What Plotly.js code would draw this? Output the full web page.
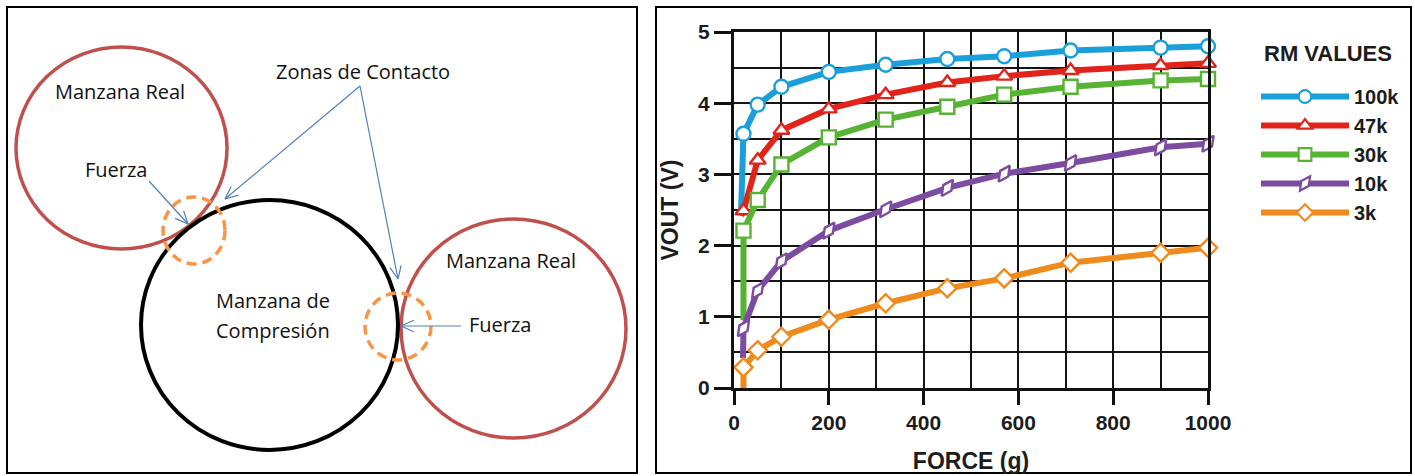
<!DOCTYPE html>
<html>
<head>
<meta charset="utf-8">
<script src="https://cdn.plot.ly/plotly-3.0.1.min.js"></script>
<style>html,body{margin:0;padding:0;background:#fff;}#chart{width:1415px;height:476px;}</style>
</head>
<body>
<div id="chart"></div>
<script>
// ---- chart data ----
const seriesNames = ['100k', '47k', '30k', '10k', '3k'];
const forceG = [20, 50, 100, 200, 320, 450, 570, 710, 900, 1000];
const vout100k = [3.57, 3.98, 4.23, 4.44, 4.54, 4.62, 4.66, 4.74, 4.78, 4.80];
const vout47k  = [2.49, 3.20, 3.62, 3.92, 4.12, 4.29, 4.38, 4.46, 4.53, 4.56];
const vout30k  = [2.21, 2.64, 3.14, 3.52, 3.77, 3.95, 4.12, 4.23, 4.32, 4.34];
const vout10k  = [0.84, 1.37, 1.78, 2.21, 2.51, 2.81, 3.01, 3.16, 3.38, 3.43];
const vout3k   = [0.29, 0.53, 0.72, 0.96, 1.19, 1.40, 1.54, 1.76, 1.90, 1.97];
// curve start (no marker) for each series
const startForce = [15, 15, 20, 19, 20];
const startVout  = [2.50, 2.42, 0.95, 0.42, 0.00];
const legendTitle = 'RM VALUES';
const xTitle = 'FORCE (g)';
const yTitle = 'VOUT (V)';

// ---- diagram texts ----
const diagramTexts = ['Manzana Real', 'Fuerza', 'Zonas de Contacto', 'Manzana Real', 'Manzana de', 'Compresión', 'Fuerza'];

// ---- styles ----
const colors = ['#1a9fda', '#e2231a', '#57b333', '#7b4c9f', '#ef8a1d'];
const symbols = ['circle', 'triangle-up', 'square', 'diamond-tall', 'diamond'];
const angles = [0, 0, 0, 35, 0];
const allVout = [vout100k, vout47k, vout30k, vout10k, vout3k];

const W = 1415, H = 476;
const px = x => x / W;
const py = y => 1 - y / H;

const traces = seriesNames.map((name, i) => {
  const xs = [startForce[i]].concat(forceG);
  const ys = [startVout[i]].concat(allVout[i]);
  const sizes = xs.map((_, k) => k === 0 ? 0 : 14);
  const lw = xs.map((_, k) => k === 0 ? 0 : 2.4);
  return {
    type: 'scatter', mode: 'lines+markers', name: name,
    x: xs, y: ys, cliponaxis: false,
    line: {color: colors[i], width: 6},
    marker: {symbol: symbols[i], size: sizes, color: '#ffffff', opacity: 1, angle: angles[i],
             line: {color: colors[i], width: lw}}
  };
});

const font = 'Liberation Sans, Arial, sans-serif';
const dfont = 'Open Sans, Noto Sans, sans-serif';
const ink = '#1c1c1c';

// diagram geometry (pixels)
const shapes = [];
function ell(x0, y0, x1, y1, color, width, dash) {
  shapes.push({type: 'circle', xref: 'paper', yref: 'paper', x0: px(x0), x1: px(x1), y0: py(y1), y1: py(y0),
    line: {color: color, width: width, dash: dash || 'solid'}});
}
function seg(x0, y0, x1, y1, color, width) {
  shapes.push({type: 'line', xref: 'paper', yref: 'paper', x0: px(x0), y0: py(y0), x1: px(x1), y1: py(y1),
    line: {color: color, width: width}});
}
function arrow(tx, ty, hx, hy) {
  const c = '#4f81bd';
  seg(tx, ty, hx, hy, c, 1.2);
  const a = Math.atan2(ty - hy, tx - hx);
  const L = 14, s = 0.42;
  seg(hx, hy, hx + L * Math.cos(a + s), hy + L * Math.sin(a + s), c, 1.2);
  seg(hx, hy, hx + L * Math.cos(a - s), hy + L * Math.sin(a - s), c, 1.2);
}
// frames
shapes.push({type: 'rect', xref: 'paper', yref: 'paper', x0: px(7), x1: px(637), y0: py(473), y1: py(7), line: {color: '#000', width: 2}});
shapes.push({type: 'rect', xref: 'paper', yref: 'paper', x0: px(656), x1: px(1411), y0: py(473), y1: py(7), line: {color: '#000', width: 2}});
ell(16, 47, 227, 249, '#c0504d', 3.5);
ell(401, 219, 626, 438, '#c0504d', 3.5);
ell(141, 200, 398, 450, '#000000', 4);
ell(163, 197, 225, 264, '#f79646', 3.5, '10px,6px');
ell(365, 293, 431, 360, '#f79646', 3.5, '10px,6px');
arrow(360, 86, 225, 199);
arrow(360, 86, 398, 279);
arrow(149, 181, 188, 224);
arrow(461, 326, 401, 326);

const textPos = [[120, 91], [116, 169], [363, 71], [511, 260], [273, 300], [273, 330], [500, 324]];
const annotations = diagramTexts.map((t, i) => ({
  text: t, xref: 'paper', yref: 'paper', x: px(textPos[i][0]), y: py(textPos[i][1]),
  xanchor: 'center', yanchor: 'middle', showarrow: false,
  font: {family: dfont, size: 20, color: '#111'}
}));
// legend heading
annotations.push({
  text: legendTitle, xref: 'paper', yref: 'paper', x: px(1262), y: py(53),
  xanchor: 'left', yanchor: 'middle', showarrow: false,
  font: {family: font, size: 22, color: ink, weight: 'bold'}
});

const layout = {
  width: W, height: H, margin: {l: 0, r: 0, t: 0, b: 0},
  paper_bgcolor: '#fff', plot_bgcolor: '#fff',
  showlegend: true,
  xaxis: {
    domain: [px(734), px(1208)], range: [0, 1000], dtick: 200, tick0: 0,
    ticks: 'outside', ticklen: 14, tickwidth: 3, tickcolor: '#111',
    showline: true, linewidth: 3, linecolor: '#111', mirror: true,
    showgrid: true, gridcolor: '#141414', gridwidth: 2, zeroline: false,
    minor: {dtick: 100, showgrid: true, gridcolor: '#141414', gridwidth: 2},
    tickfont: {family: font, size: 21, color: ink, weight: 'bold'},
    title: {text: xTitle, standoff: 20, font: {family: font, size: 23, color: ink, weight: 'bold'}},
    fixedrange: true
  },
  yaxis: {
    domain: [py(388), py(32)], range: [0, 5], dtick: 1, tick0: 0,
    ticks: 'outside', ticklen: 17, tickwidth: 3, tickcolor: '#111',
    showline: true, linewidth: 3, linecolor: '#111', mirror: true,
    showgrid: true, gridcolor: '#141414', gridwidth: 2, zeroline: false,
    minor: {dtick: 0.5, showgrid: true, gridcolor: '#141414', gridwidth: 2},
    tickfont: {family: font, size: 21, color: ink, weight: 'bold'},
    title: {text: yTitle, standoff: 14, font: {family: font, size: 23, color: ink, weight: 'bold'}},
    fixedrange: true
  },
  legend: {
    x: px(1256), y: py(77), xanchor: 'left', yanchor: 'top',
    bgcolor: 'rgba(0,0,0,0)', borderwidth: 0, itemwidth: 88,
    font: {family: font, size: 20, color: ink, weight: 'bold'},
    tracegroupgap: 0
  },
  shapes: shapes,
  annotations: annotations
};

Plotly.newPlot('chart', traces, layout, {displayModeBar: false, staticPlot: true});
</script>
</body>
</html>
